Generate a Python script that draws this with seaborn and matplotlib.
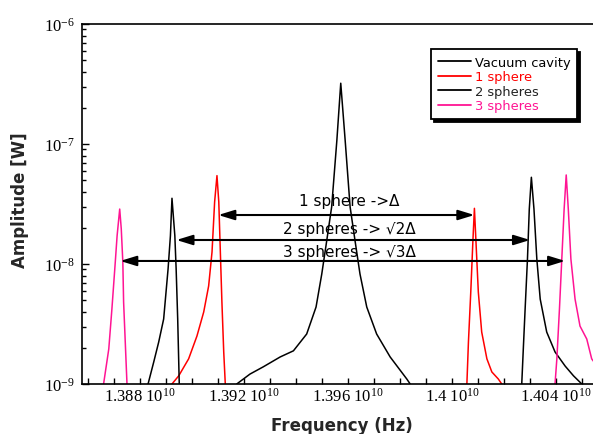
import numpy as np
import pandas as pd
import matplotlib
matplotlib.use('Agg')
import matplotlib.pyplot as plt
from matplotlib.lines import Line2D
from matplotlib.ticker import MultipleLocator, FuncFormatter, LogLocator, NullFormatter
import seaborn as sns

# Frequencies in units of 1e10 Hz, amplitudes in W
vac_f = [1.39172, 1.39223, 1.39274, 1.39339, 1.39390, 1.39441, 1.39477, 1.39499, 1.39518, 1.39537,
         1.39557, 1.39572, 1.39589, 1.39608, 1.39627, 1.39646, 1.39672, 1.39710, 1.39762, 1.39826, 1.39839]
vac_a = [1.0e-9, 1.21e-9, 1.39e-9, 1.68e-9, 1.89e-9, 2.61e-9, 4.38e-9, 8.25e-9, 1.56e-8, 2.99e-8,
         1.07e-7, 3.21e-7, 1.07e-7, 2.99e-8, 1.56e-8, 8.25e-9, 4.38e-9, 2.61e-9, 1.68e-9, 1.10e-9, 1.0e-9]

one_left_f = [1.38923, 1.38949, 1.38987, 1.39019, 1.39045, 1.39064, 1.39077, 1.39087, 1.39096, 1.39103,
              1.39109, 1.39115, 1.39122, 1.39128]
one_left_a = [1.0e-9, 1.17e-9, 1.62e-9, 2.51e-9, 3.98e-9, 6.56e-9, 1.26e-8, 3.29e-8, 5.45e-8, 3.29e-8,
              1.26e-8, 4.82e-9, 1.85e-9, 1.0e-9]
one_right_f = [1.40057, 1.40063, 1.40072, 1.40080, 1.40086, 1.40092, 1.40101, 1.40114, 1.40134, 1.40153,
               1.40178, 1.40191]
one_right_a = [1.0e-9, 2.24e-9, 5.85e-9, 1.53e-8, 2.91e-8, 1.53e-8, 5.85e-9, 2.71e-9, 1.62e-9, 1.26e-9,
               1.10e-9, 1.0e-9]

two_left_f = [1.38831, 1.38853, 1.38872, 1.38891, 1.38908, 1.38917, 1.38923, 1.38934, 1.38939, 1.38945, 1.38951]
two_left_a = [1.0e-9, 1.53e-9, 2.24e-9, 3.48e-9, 9.1e-9, 1.72e-8, 3.53e-8, 1.72e-8, 9.1e-9, 3.48e-9, 1.0e-9]
two_right_f = [1.40268, 1.40274, 1.40281, 1.40290, 1.40297, 1.40305, 1.40315, 1.40326, 1.40339, 1.40364,
               1.40396, 1.40435, 1.40467, 1.40499]
two_right_a = [1.0e-9, 1.96e-9, 4.22e-9, 1.10e-8, 2.87e-8, 5.28e-8, 2.87e-8, 1.10e-8, 5.1e-9, 2.71e-9,
               1.85e-9, 1.41e-9, 1.17e-9, 1.0e-9]

three_left_f = [1.38660, 1.38680, 1.38692, 1.38705, 1.38712, 1.38722, 1.38728, 1.38734, 1.38737, 1.38744, 1.38750]
three_left_a = [1.0e-9, 1.96e-9, 4.22e-9, 1.04e-8, 1.72e-8, 2.87e-8, 1.96e-8, 1.04e-8, 4.82e-9, 2.07e-9, 1.0e-9]
three_right_f = [1.40396, 1.40403, 1.40413, 1.40422, 1.40431, 1.40439, 1.40447, 1.40457, 1.40473, 1.40492,
                 1.40518, 1.40537, 1.40570]
three_right_a = [1.0e-9, 1.62e-9, 4.22e-9, 1.10e-8, 2.87e-8, 5.52e-8, 2.87e-8, 1.10e-8, 5.1e-9, 3.04e-9,
                 2.37e-9, 1.62e-9, 1.3e-9]

series_names = ['Vacuum cavity', '1 sphere', '2 spheres', '3 spheres']
line_colors = ['black', 'red', 'black', '#ff1493']
legend_text_colors = ['black', 'red', '#222222', '#ff1493']

# splitting arrows between the peaks
arrow_left = [1.39101, 1.38940, 1.38724]
arrow_right = [1.40086, 1.40300, 1.40435]
arrow_y = [2.56e-8, 1.585e-8, 1.06e-8]
arrow_text = ['1 sphere ->\u0394', '2 spheres -> \u221a2\u0394', '3 spheres -> \u221a3\u0394']
text_y = [3.1e-8, 1.81e-8, 1.16e-8]
text_x = 1.39605

segments = [
    ('Vacuum cavity', 'vac', vac_f, vac_a),
    ('1 sphere', 'one_l', one_left_f, one_left_a),
    ('1 sphere', 'one_r', one_right_f, one_right_a),
    ('2 spheres', 'two_l', two_left_f, two_left_a),
    ('2 spheres', 'two_r', two_right_f, two_right_a),
    ('3 spheres', 'three_l', three_left_f, three_left_a),
    ('3 spheres', 'three_r', three_right_f, three_right_a),
]
rows = []
for name, seg, f, a in segments:
    for fi, ai in zip(f, a):
        rows.append({'freq': fi, 'amp': ai, 'series': name, 'segment': seg})
df = pd.DataFrame(rows)

sns.set_style('ticks')
plt.rcParams['font.family'] = ['DejaVu Sans']

fig = plt.figure(figsize=(5.93, 4.35), dpi=100)
ax = fig.add_axes([82 / 593, 1 - 385 / 435, 511 / 593, 360 / 435])

sns.lineplot(data=df, x='freq', y='amp', hue='series', units='segment', estimator=None, sort=False,
             hue_order=series_names, palette=dict(zip(series_names, line_colors)),
             linewidth=1.1, legend=False, ax=ax)

ax.set_yscale('log')
ax.set_ylim(1e-9, 1e-6)
ax.set_xlim(1.38577, 1.40542)

ax.xaxis.set_major_locator(MultipleLocator(0.004))
ax.xaxis.set_minor_locator(MultipleLocator(0.001))
ax.xaxis.set_major_formatter(FuncFormatter(lambda v, _: f"{v:.4g} $\\mathregular{{10^{{10}}}}$"))
ax.yaxis.set_major_locator(LogLocator(base=10))
ax.yaxis.set_minor_locator(LogLocator(base=10, subs=np.arange(2, 10)))
ax.yaxis.set_minor_formatter(NullFormatter())

ax.tick_params(which='both', direction='in', width=1, colors='black', labelsize=12,
               labelfontfamily='Liberation Serif')
ax.tick_params(axis='x', which='both', length=4, pad=2)
ax.tick_params(axis='y', which='major', length=5, pad=5)
ax.tick_params(axis='y', which='minor', length=3)

for side in ['left', 'bottom', 'top']:
    ax.spines[side].set_linewidth(1.2)
    ax.spines[side].set_color('black')
ax.spines['right'].set_visible(False)

ax.set_xlabel('Frequency (Hz)', fontsize=12, fontweight='bold')
ax.set_ylabel('Amplitude [W]', fontsize=12, fontweight='bold')
ax.xaxis.set_label_coords(0.509, -0.089)
ax.yaxis.set_label_coords(-0.104, 0.514)

for xl, xr, y in zip(arrow_left, arrow_right, arrow_y):
    ax.annotate('', xy=(xr, y), xytext=(xl, y),
                arrowprops=dict(arrowstyle='<|-|>,head_length=0.65,head_width=0.2', color='black',
                                lw=1.5, mutation_scale=15, shrinkA=0, shrinkB=0))
for t, y in zip(arrow_text, text_y):
    ax.text(text_x, y, t, ha='center', va='baseline', fontsize=11, color='black')

handles = [Line2D([], [], color=c, lw=1.3) for c in line_colors]
leg = ax.legend(handles, series_names, loc='upper right', bbox_to_anchor=(577 / 593, 1 - 50 / 435),
                bbox_transform=fig.transFigure, borderaxespad=0, fontsize=9.4, frameon=True,
                fancybox=False, framealpha=1, edgecolor='black', handlelength=2.6, handletextpad=0.25,
                labelspacing=0.12, borderpad=0.5,
                shadow={'ox': 2.5, 'oy': -2.5, 'color': 'black', 'alpha': 1})
leg.get_frame().set_linewidth(1.3)
for txt, c in zip(leg.get_texts(), legend_text_colors):
    txt.set_color(c)

fig.savefig('out.png', dpi=100, facecolor='white')
